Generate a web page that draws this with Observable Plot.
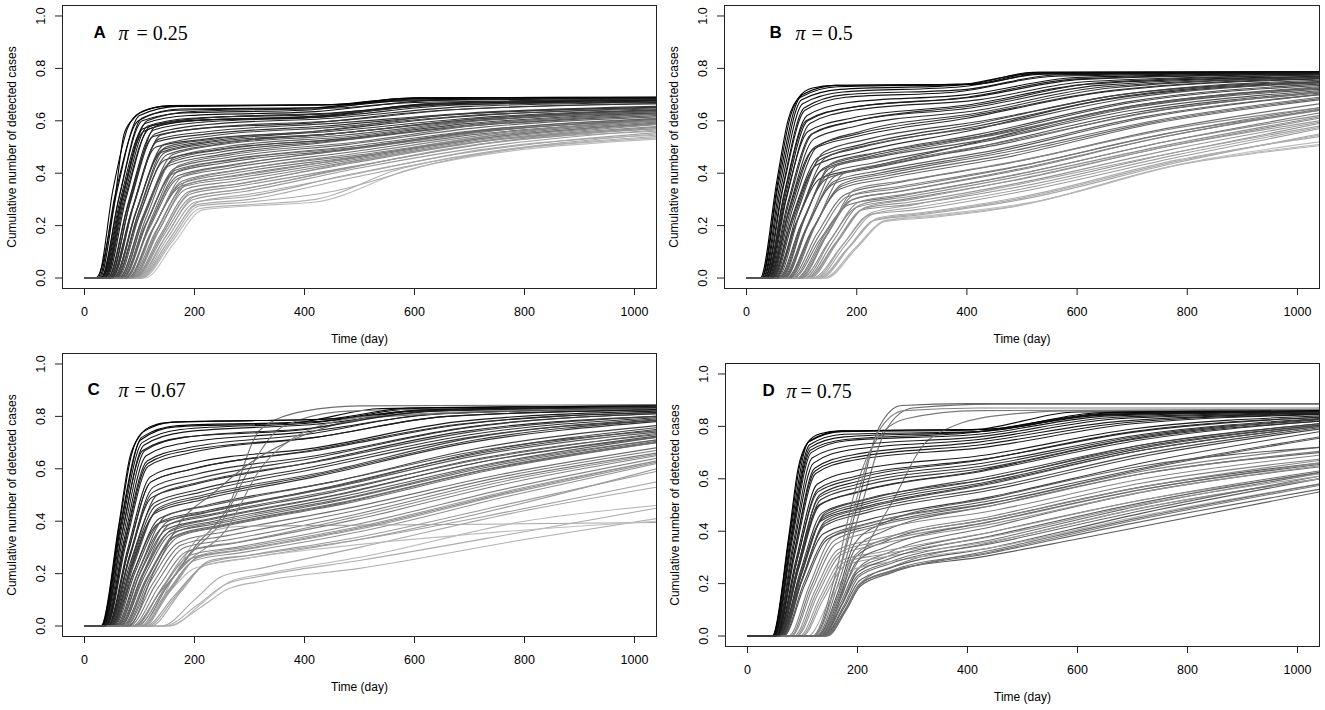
<!DOCTYPE html>
<html><head><meta charset="utf-8">
<script src="https://cdn.jsdelivr.net/npm/d3@7"></script>
<script src="https://cdn.jsdelivr.net/npm/@observablehq/plot@0.6"></script>
<style>
html,body{margin:0;padding:0;background:#fff;}
body{width:1325px;height:710px;position:relative;overflow:hidden;font-family:"Liberation Sans",Arial,sans-serif;}
.panel{position:absolute;}
</style></head><body>
<div id="pA" class="panel" style="left:0px;top:0px"></div>
<div id="pB" class="panel" style="left:662px;top:0px"></div>
<div id="pC" class="panel" style="left:0px;top:348px"></div>
<div id="pD" class="panel" style="left:663px;top:358px"></div>
<script>
const xTicks = [0, 200, 400, 600, 800, 1000];
const yTicks = [0, 0.2, 0.4, 0.6, 0.8, 1.0];
const panelLetters = ["A", "B", "C", "D"];
const piValues = ["0.25", "0.5", "0.67", "0.75"];
const xTitle = "Time (day)";
const yTitle = "Cumulative number of detected cases";

// Each curve: t,y pairs (day, cumulative share). Shade: 0 = black ... 1 = light gray.
const curvesA = [
[0,0, 20,0, 55,0.3, 72,0.55, 90,0.61, 110,0.64, 150,0.655, 450,0.662, 600,0.688, 1040,0.69],
[0,0, 28,0, 58,0.32, 100,0.62, 170,0.655, 450,0.66, 620,0.685, 1040,0.688],
[0,0, 30,0, 62,0.3, 105,0.6, 180,0.63, 400,0.64, 560,0.675, 1040,0.685],
[0,0, 35,0, 68,0.3, 110,0.59, 190,0.62, 420,0.635, 600,0.67, 1040,0.68],
[0,0, 38,0, 72,0.29, 118,0.57, 200,0.6, 400,0.615, 650,0.66, 1040,0.675],
[0,0, 40,0, 75,0.3, 120,0.58, 210,0.61, 450,0.63, 700,0.67, 1040,0.68],
[0,0, 45,0, 82,0.28, 128,0.55, 220,0.585, 450,0.61, 700,0.655, 1040,0.67],
[0,0, 42,0, 78,0.27, 125,0.54, 210,0.57, 400,0.59, 650,0.64, 1040,0.665],
[0,0, 50,0, 88,0.27, 135,0.53, 230,0.56, 450,0.59, 700,0.63, 1040,0.655],
[0,0, 48,0, 85,0.25, 130,0.5, 220,0.53, 420,0.56, 650,0.61, 1040,0.65],
[0,0, 55,0, 95,0.26, 145,0.51, 240,0.545, 450,0.575, 700,0.62, 1040,0.645],
[0,0, 26,0, 55,0.31, 98,0.6, 165,0.64, 420,0.65, 580,0.685, 1040,0.69],
[0,0, 33,0, 65,0.28, 108,0.56, 190,0.6, 440,0.62, 620,0.665, 1040,0.683],
[0,0, 52,0, 92,0.24, 140,0.48, 235,0.52, 450,0.55, 700,0.605, 1040,0.64],
[0,0, 60,0, 100,0.24, 150,0.47, 240,0.51, 450,0.55, 700,0.6, 1040,0.635],
[0,0, 65,0, 108,0.23, 160,0.45, 250,0.49, 470,0.53, 700,0.58, 1040,0.62],
[0,0, 62,0, 104,0.22, 155,0.43, 245,0.47, 450,0.52, 700,0.58, 1040,0.625],
[0,0, 70,0, 115,0.22, 165,0.42, 260,0.46, 480,0.51, 720,0.575, 1040,0.615],
[0,0, 75,0, 120,0.21, 172,0.41, 265,0.45, 500,0.5, 750,0.57, 1040,0.61],
[0,0, 68,0, 110,0.2, 162,0.4, 255,0.44, 470,0.49, 720,0.56, 1040,0.6],
[0,0, 72,0, 118,0.19, 170,0.38, 265,0.42, 480,0.48, 720,0.55, 1040,0.6],
[0,0, 80,0, 125,0.19, 178,0.37, 270,0.41, 500,0.47, 750,0.545, 1040,0.595],
[0,0, 78,0, 122,0.18, 175,0.35, 270,0.39, 500,0.46, 750,0.54, 1040,0.59],
[0,0, 58,0, 98,0.25, 148,0.5, 235,0.53, 420,0.56, 650,0.62, 1040,0.65],
[0,0, 85,0, 132,0.17, 185,0.34, 275,0.37, 500,0.45, 750,0.53, 1040,0.585],
[0,0, 90,0, 140,0.16, 192,0.32, 280,0.35, 500,0.43, 750,0.52, 1040,0.575],
[0,0, 95,0, 145,0.15, 198,0.3, 290,0.33, 500,0.42, 760,0.51, 1040,0.565],
[0,0, 100,0, 152,0.14, 205,0.28, 300,0.3, 480,0.38, 700,0.47, 1040,0.55],
[0,0, 105,0, 158,0.135, 210,0.265, 300,0.28, 420,0.3, 580,0.42, 1040,0.535],
[0,0, 88,0, 135,0.18, 188,0.36, 280,0.39, 520,0.47, 760,0.55, 1040,0.6],
[0,0, 92,0, 142,0.17, 195,0.33, 285,0.36, 480,0.44, 720,0.52, 1040,0.57],
[0,0, 98,0, 148,0.16, 200,0.31, 290,0.34, 460,0.41, 680,0.5, 1040,0.56],
[0,0, 82,0, 128,0.2, 180,0.39, 270,0.43, 520,0.5, 760,0.565, 1040,0.605],
[0,0, 102,0, 155,0.15, 207,0.29, 300,0.32, 500,0.4, 720,0.49, 1040,0.545],
[0,0, 68,0, 112,0.23, 163,0.46, 255,0.5, 480,0.54, 720,0.6, 1040,0.63],
[0,0, 36,0, 70,0.31, 114,0.6, 195,0.635, 470,0.65, 650,0.68, 1040,0.688],
[0,0, 56,0, 96,0.22, 146,0.45, 240,0.49, 460,0.53, 700,0.59, 1040,0.63],
[0,0, 110,0, 162,0.13, 215,0.26, 300,0.275, 420,0.29, 600,0.42, 1040,0.53],
[0,0, 24,0, 52,0.34, 78,0.57, 100,0.63, 155,0.658, 460,0.662, 610,0.688, 1040,0.69],
[0,0, 31,0, 63,0.31, 104,0.61, 175,0.645, 430,0.65, 600,0.68, 1040,0.687],
[0,0, 37,0, 71,0.3, 115,0.58, 195,0.61, 430,0.625, 640,0.665, 1040,0.678],
[0,0, 43,0, 80,0.29, 126,0.565, 215,0.595, 440,0.615, 680,0.66, 1040,0.672],
[0,0, 47,0, 86,0.26, 132,0.52, 225,0.55, 440,0.58, 680,0.625, 1040,0.652],
[0,0, 53,0, 93,0.25, 142,0.49, 238,0.525, 450,0.56, 700,0.61, 1040,0.642],
[0,0, 57,0, 97,0.24, 147,0.48, 240,0.515, 450,0.55, 700,0.605, 1040,0.64],
[0,0, 63,0, 105,0.23, 156,0.44, 245,0.48, 460,0.525, 700,0.585, 1040,0.628],
[0,0, 69,0, 113,0.21, 164,0.41, 258,0.45, 475,0.5, 720,0.565, 1040,0.608],
[0,0, 73,0, 118,0.2, 170,0.39, 262,0.43, 480,0.49, 730,0.56, 1040,0.605],
[0,0, 79,0, 124,0.185, 176,0.36, 270,0.4, 500,0.465, 750,0.54, 1040,0.592],
[0,0, 83,0, 130,0.18, 182,0.35, 272,0.38, 500,0.455, 750,0.535, 1040,0.588],
[0,0, 89,0, 138,0.165, 190,0.33, 280,0.36, 490,0.44, 740,0.525, 1040,0.578],
[0,0, 93,0, 143,0.16, 196,0.31, 288,0.34, 490,0.425, 740,0.515, 1040,0.57],
[0,0, 99,0, 150,0.15, 202,0.29, 295,0.31, 470,0.39, 700,0.48, 1040,0.555],
[0,0, 103,0, 156,0.14, 208,0.275, 300,0.29, 450,0.33, 640,0.44, 1040,0.54],
[0,0, 66,0, 109,0.24, 160,0.47, 250,0.51, 470,0.545, 710,0.6, 1040,0.635],
[0,0, 86,0, 134,0.19, 186,0.37, 276,0.41, 510,0.48, 760,0.555, 1040,0.6],
[0,0, 32,0, 64,0.29, 106,0.57, 185,0.6, 430,0.615, 610,0.66, 1040,0.68],
[0,0, 50,0, 90,0.28, 138,0.545, 230,0.575, 460,0.6, 690,0.645, 1040,0.665],
[0,0, 46,0, 84,0.3, 130,0.58, 215,0.61, 470,0.63, 690,0.67, 1040,0.682],
[0,0, 76,0, 120,0.22, 172,0.43, 265,0.47, 500,0.52, 740,0.59, 1040,0.625]
];
const shadeA = [0,0.05,0.1,0.08,0.15,0.12,0.2,0.18,0.25,0.22,0.3,0.05,0.1,0.28,0.35,0.4,0.38,0.45,0.5,0.42,0.48,0.55,0.52,0.35,0.6,0.65,0.7,0.75,0.8,0.62,0.68,0.72,0.58,0.78,0.45,0.15,0.3,0.85,
0.02,0.07,0.12,0.17,0.22,0.27,0.32,0.37,0.43,0.47,0.53,0.57,0.63,0.67,0.73,0.77,0.4,0.6,0.1,0.25,0.2,0.5];

const curvesB = [
[0,0, 25,0, 55,0.37, 75,0.6, 95,0.69, 120,0.725, 160,0.735, 400,0.74, 520,0.785, 1040,0.787],
[0,0, 30,0, 60,0.35, 100,0.68, 170,0.72, 380,0.735, 520,0.78, 1040,0.786],
[0,0, 33,0, 64,0.33, 105,0.65, 180,0.7, 400,0.72, 560,0.775, 1040,0.785],
[0,0, 36,0, 68,0.32, 110,0.62, 185,0.67, 400,0.7, 600,0.765, 1040,0.782],
[0,0, 40,0, 72,0.3, 115,0.59, 195,0.64, 420,0.68, 620,0.75, 1040,0.775],
[0,0, 38,0, 70,0.29, 112,0.56, 190,0.61, 400,0.66, 620,0.74, 1040,0.77],
[0,0, 44,0, 78,0.27, 122,0.53, 200,0.58, 420,0.64, 650,0.73, 1040,0.765],
[0,0, 42,0, 76,0.25, 120,0.49, 200,0.54, 400,0.61, 650,0.71, 1040,0.76],
[0,0, 48,0, 84,0.24, 130,0.46, 210,0.51, 420,0.59, 680,0.7, 1040,0.75],
[0,0, 46,0, 82,0.22, 126,0.43, 205,0.48, 400,0.56, 650,0.68, 1040,0.745],
[0,0, 52,0, 90,0.21, 136,0.41, 215,0.46, 420,0.54, 700,0.67, 1040,0.735],
[0,0, 28,0, 58,0.36, 98,0.69, 165,0.73, 420,0.74, 540,0.783, 1040,0.786],
[0,0, 34,0, 66,0.34, 106,0.64, 180,0.69, 380,0.71, 560,0.77, 1040,0.783],
[0,0, 50,0, 88,0.2, 134,0.38, 215,0.42, 400,0.51, 680,0.65, 1040,0.725],
[0,0, 36,0, 68,0.31, 108,0.6, 185,0.65, 400,0.69, 600,0.76, 1040,0.78],
[0,0, 58,0, 98,0.2, 146,0.38, 230,0.42, 420,0.5, 700,0.63, 1040,0.71],
[0,0, 65,0, 108,0.19, 158,0.36, 240,0.4, 450,0.48, 720,0.61, 1040,0.7],
[0,0, 72,0, 118,0.18, 170,0.34, 255,0.38, 470,0.46, 740,0.59, 1040,0.68],
[0,0, 80,0, 128,0.17, 180,0.32, 265,0.36, 480,0.44, 760,0.57, 1040,0.665],
[0,0, 68,0, 112,0.2, 162,0.39, 245,0.43, 460,0.51, 720,0.63, 1040,0.705],
[0,0, 76,0, 122,0.19, 174,0.36, 258,0.4, 470,0.48, 740,0.6, 1040,0.69],
[0,0, 90,0, 140,0.16, 192,0.3, 275,0.33, 480,0.41, 760,0.54, 1040,0.645],
[0,0, 85,0, 134,0.15, 186,0.28, 270,0.31, 480,0.39, 760,0.52, 1040,0.63],
[0,0, 62,0, 104,0.22, 152,0.42, 235,0.46, 440,0.53, 700,0.65, 1040,0.72],
[0,0, 100,0, 150,0.14, 200,0.27, 285,0.3, 480,0.37, 760,0.5, 1040,0.61],
[0,0, 110,0, 160,0.13, 210,0.26, 295,0.28, 500,0.35, 780,0.48, 1040,0.59],
[0,0, 120,0, 172,0.12, 222,0.24, 305,0.26, 500,0.33, 780,0.46, 1040,0.57],
[0,0, 130,0, 182,0.11, 232,0.22, 310,0.24, 500,0.3, 780,0.44, 1040,0.55],
[0,0, 140,0, 195,0.11, 250,0.215, 330,0.23, 480,0.27, 780,0.43, 1040,0.505],
[0,0, 105,0, 154,0.15, 204,0.29, 290,0.32, 500,0.4, 760,0.52, 1040,0.62],
[0,0, 115,0, 166,0.14, 216,0.27, 300,0.3, 500,0.38, 760,0.5, 1040,0.6],
[0,0, 125,0, 176,0.13, 228,0.25, 305,0.28, 500,0.36, 780,0.48, 1040,0.58],
[0,0, 95,0, 145,0.16, 196,0.32, 280,0.35, 500,0.43, 760,0.55, 1040,0.64],
[0,0, 135,0, 188,0.12, 240,0.23, 320,0.25, 500,0.31, 780,0.45, 1040,0.54],
[0,0, 70,0, 114,0.22, 165,0.43, 250,0.47, 460,0.55, 720,0.66, 1040,0.725],
[0,0, 145,0, 200,0.115, 255,0.22, 340,0.24, 520,0.29, 800,0.44, 1040,0.52],
[0,0, 54,0, 92,0.25, 140,0.48, 220,0.53, 430,0.6, 680,0.7, 1040,0.755],
[0,0, 42,0, 76,0.28, 120,0.55, 200,0.6, 420,0.66, 640,0.745, 1040,0.775],
[0,0, 27,0, 57,0.37, 80,0.62, 102,0.7, 162,0.735, 410,0.74, 530,0.785, 1040,0.787],
[0,0, 31,0, 62,0.34, 102,0.665, 175,0.71, 390,0.73, 540,0.778, 1040,0.785],
[0,0, 37,0, 70,0.31, 111,0.6, 188,0.65, 410,0.69, 610,0.758, 1040,0.778],
[0,0, 41,0, 74,0.28, 118,0.55, 198,0.6, 410,0.65, 640,0.735, 1040,0.768],
[0,0, 45,0, 80,0.26, 124,0.5, 202,0.55, 410,0.62, 660,0.715, 1040,0.762],
[0,0, 49,0, 86,0.23, 132,0.45, 212,0.5, 420,0.58, 690,0.695, 1040,0.748],
[0,0, 53,0, 92,0.22, 140,0.42, 220,0.47, 425,0.55, 700,0.675, 1040,0.74],
[0,0, 60,0, 101,0.21, 150,0.4, 232,0.44, 430,0.52, 700,0.64, 1040,0.715],
[0,0, 67,0, 110,0.195, 160,0.37, 242,0.41, 455,0.49, 720,0.615, 1040,0.7],
[0,0, 74,0, 120,0.185, 172,0.35, 256,0.39, 470,0.47, 740,0.595, 1040,0.685],
[0,0, 83,0, 131,0.16, 183,0.31, 268,0.34, 480,0.42, 760,0.55, 1040,0.65],
[0,0, 92,0, 142,0.155, 194,0.3, 278,0.33, 490,0.41, 760,0.54, 1040,0.64],
[0,0, 108,0, 157,0.14, 207,0.28, 292,0.31, 500,0.39, 770,0.51, 1040,0.615],
[0,0, 112,0, 163,0.135, 213,0.265, 298,0.29, 500,0.365, 770,0.49, 1040,0.595],
[0,0, 128,0, 179,0.125, 230,0.245, 308,0.27, 500,0.34, 780,0.47, 1040,0.575],
[0,0, 132,0, 185,0.115, 236,0.225, 315,0.245, 500,0.305, 780,0.445, 1040,0.545],
[0,0, 142,0, 198,0.11, 252,0.22, 335,0.235, 500,0.28, 790,0.435, 1040,0.51],
[0,0, 64,0, 106,0.23, 156,0.44, 240,0.48, 450,0.55, 710,0.66, 1040,0.73],
[0,0, 98,0, 147,0.17, 198,0.34, 282,0.37, 500,0.45, 760,0.565, 1040,0.65],
[0,0, 78,0, 125,0.2, 177,0.4, 260,0.44, 470,0.52, 740,0.635, 1040,0.71],
[0,0, 47,0, 83,0.26, 128,0.5, 208,0.56, 420,0.63, 660,0.725, 1040,0.765],
[0,0, 56,0, 96,0.24, 144,0.46, 226,0.51, 440,0.58, 690,0.685, 1040,0.745]
];
const shadeB = [0,0.05,0.1,0.08,0.15,0.12,0.2,0.18,0.25,0.22,0.3,0.05,0.1,0.28,0.15,0.35,0.4,0.45,0.5,0.42,0.48,0.55,0.52,0.38,0.6,0.65,0.7,0.75,0.8,0.62,0.68,0.72,0.58,0.78,0.45,0.85,0.3,0.2,
0.02,0.07,0.12,0.17,0.22,0.27,0.32,0.37,0.43,0.47,0.53,0.57,0.63,0.67,0.73,0.77,0.82,0.4,0.6,0.5,0.25,0.35];

const curvesC = [
[0,0, 30,0, 62,0.38, 82,0.64, 102,0.73, 125,0.765, 160,0.778, 450,0.79, 600,0.83, 1040,0.84],
[0,0, 33,0, 65,0.37, 104,0.72, 170,0.765, 420,0.78, 620,0.825, 1040,0.838],
[0,0, 36,0, 68,0.35, 108,0.69, 180,0.74, 420,0.77, 640,0.82, 1040,0.835],
[0,0, 38,0, 72,0.33, 112,0.65, 185,0.7, 400,0.74, 650,0.81, 1040,0.83],
[0,0, 40,0, 75,0.31, 116,0.61, 190,0.66, 420,0.72, 660,0.8, 1040,0.825],
[0,0, 42,0, 78,0.29, 120,0.57, 195,0.62, 420,0.68, 680,0.78, 1040,0.82],
[0,0, 45,0, 82,0.27, 125,0.53, 205,0.58, 420,0.65, 700,0.76, 1040,0.81],
[0,0, 44,0, 80,0.25, 122,0.49, 200,0.54, 400,0.62, 680,0.74, 1040,0.8],
[0,0, 48,0, 86,0.24, 130,0.46, 210,0.51, 420,0.6, 700,0.72, 1040,0.79],
[0,0, 47,0, 84,0.22, 128,0.43, 210,0.48, 420,0.57, 700,0.7, 1040,0.78],
[0,0, 52,0, 90,0.21, 136,0.41, 220,0.46, 450,0.55, 720,0.68, 1040,0.765],
[0,0, 32,0, 63,0.36, 102,0.71, 165,0.76, 380,0.775, 540,0.83, 1040,0.84],
[0,0, 35,0, 67,0.34, 106,0.67, 178,0.72, 400,0.75, 600,0.82, 1040,0.836],
[0,0, 50,0, 88,0.2, 134,0.39, 215,0.43, 420,0.52, 720,0.66, 1040,0.75],
[0,0, 39,0, 73,0.32, 114,0.63, 188,0.68, 400,0.73, 640,0.81, 1040,0.83],
[0,0, 56,0, 96,0.2, 144,0.38, 225,0.42, 450,0.51, 720,0.64, 1040,0.73],
[0,0, 62,0, 104,0.19, 154,0.36, 235,0.4, 460,0.49, 740,0.62, 1040,0.72],
[0,0, 68,0, 112,0.18, 164,0.34, 245,0.38, 470,0.47, 740,0.6, 1040,0.7],
[0,0, 75,0, 120,0.17, 172,0.32, 255,0.36, 480,0.45, 760,0.58, 1040,0.68],
[0,0, 64,0, 106,0.2, 156,0.39, 238,0.43, 460,0.52, 730,0.64, 1040,0.735],
[0,0, 72,0, 116,0.19, 168,0.36, 250,0.4, 480,0.49, 750,0.62, 1040,0.71],
[0,0, 82,0, 130,0.16, 182,0.3, 265,0.33, 480,0.42, 760,0.56, 1040,0.66],
[0,0, 58,0, 100,0.22, 148,0.42, 230,0.46, 450,0.55, 720,0.67, 1040,0.745],
[0,0, 100,0, 150,0.15, 200,0.3, 260,0.45, 320,0.75, 400,0.82, 500,0.84, 1040,0.845],
[0,0, 95,0, 145,0.14, 195,0.28, 250,0.4, 300,0.6, 360,0.76, 480,0.82, 1040,0.84],
[0,0, 90,0, 140,0.14, 192,0.27, 275,0.3, 500,0.39, 780,0.53, 1040,0.64],
[0,0, 100,0, 150,0.13, 200,0.25, 285,0.28, 500,0.36, 780,0.5, 1040,0.62],
[0,0, 110,0, 165,0.12, 218,0.23, 300,0.26, 500,0.33, 780,0.46, 1040,0.6],
[0,0, 110,0, 160,0.18, 210,0.34, 280,0.38, 500,0.385, 800,0.39, 1040,0.395],
[0,0, 150,0, 210,0.07, 260,0.14, 320,0.17, 500,0.22, 800,0.33, 1040,0.41],
[0,0, 145,0, 205,0.08, 258,0.16, 320,0.19, 500,0.25, 800,0.36, 1040,0.45],
[0,0, 155,0, 215,0.09, 265,0.17, 330,0.2, 520,0.27, 800,0.4, 1040,0.46],
[0,0, 140,0, 200,0.1, 250,0.19, 320,0.22, 500,0.3, 800,0.44, 1040,0.53],
[0,0, 120,0, 175,0.13, 228,0.25, 300,0.27, 500,0.33, 780,0.44, 1040,0.55],
[0,0, 100,0, 150,0.12, 200,0.22, 270,0.25, 450,0.3, 700,0.35, 1040,0.4],
[0,0, 92,0, 142,0.15, 195,0.29, 278,0.32, 500,0.42, 780,0.56, 1040,0.655],
[0,0, 105,0, 158,0.14, 210,0.27, 290,0.3, 500,0.38, 780,0.52, 1040,0.63],
[0,0, 66,0, 108,0.2, 160,0.37, 240,0.41, 460,0.5, 730,0.63, 1040,0.72],
[0,0, 50,0, 88,0.26, 132,0.5, 212,0.55, 430,0.63, 700,0.74, 1040,0.8],
[0,0, 43,0, 79,0.28, 121,0.55, 198,0.6, 410,0.67, 680,0.77, 1040,0.815],
[0,0, 31,0, 63,0.38, 85,0.65, 106,0.74, 162,0.778, 440,0.79, 590,0.832, 1040,0.84],
[0,0, 34,0, 66,0.36, 105,0.7, 175,0.75, 410,0.775, 620,0.825, 1040,0.837],
[0,0, 39,0, 74,0.32, 115,0.62, 188,0.67, 420,0.72, 660,0.8, 1040,0.826],
[0,0, 43,0, 79,0.28, 121,0.55, 198,0.6, 420,0.67, 690,0.77, 1040,0.815],
[0,0, 46,0, 83,0.24, 127,0.47, 206,0.52, 420,0.61, 700,0.73, 1040,0.795],
[0,0, 49,0, 87,0.23, 131,0.44, 212,0.49, 430,0.58, 710,0.71, 1040,0.785],
[0,0, 54,0, 92,0.205, 140,0.4, 222,0.44, 450,0.53, 720,0.665, 1040,0.757],
[0,0, 60,0, 101,0.2, 150,0.37, 230,0.41, 455,0.5, 730,0.63, 1040,0.725],
[0,0, 65,0, 109,0.19, 159,0.355, 240,0.39, 465,0.48, 740,0.61, 1040,0.71],
[0,0, 70,0, 114,0.18, 166,0.345, 248,0.385, 475,0.475, 745,0.605, 1040,0.705],
[0,0, 78,0, 125,0.165, 177,0.31, 260,0.345, 480,0.435, 760,0.57, 1040,0.67],
[0,0, 86,0, 135,0.15, 187,0.285, 270,0.315, 490,0.405, 770,0.545, 1040,0.65],
[0,0, 95,0, 146,0.14, 196,0.26, 280,0.29, 500,0.375, 780,0.515, 1040,0.63],
[0,0, 103,0, 154,0.135, 205,0.26, 288,0.29, 500,0.37, 780,0.51, 1040,0.625],
[0,0, 60,0, 102,0.21, 152,0.4, 234,0.44, 455,0.53, 725,0.655, 1040,0.74],
[0,0, 88,0, 138,0.13, 190,0.25, 255,0.36, 320,0.6, 400,0.74, 520,0.8, 1040,0.835],
[0,0, 51,0, 89,0.23, 134,0.45, 216,0.5, 440,0.59, 710,0.72, 1040,0.785],
[0,0, 46,0, 82,0.26, 124,0.51, 202,0.56, 415,0.64, 690,0.755, 1040,0.81],
[0,0, 74,0, 118,0.18, 170,0.34, 252,0.38, 480,0.47, 750,0.6, 1040,0.7],
[0,0, 115,0, 170,0.125, 222,0.24, 300,0.27, 500,0.34, 780,0.47, 1040,0.59],
[0,0, 80,0, 125,0.2, 175,0.4, 230,0.5, 300,0.62, 400,0.73, 550,0.8, 1040,0.83],
[0,0, 37,0, 70,0.34, 110,0.67, 182,0.72, 410,0.755, 630,0.82, 1040,0.834]
];
const shadeC = [0,0.05,0.1,0.08,0.15,0.12,0.2,0.18,0.25,0.22,0.3,0.05,0.1,0.28,0.15,0.35,0.4,0.45,0.5,0.42,0.48,0.55,0.38,0.5,0.55,0.6,0.65,0.7,0.75,0.8,0.78,0.82,0.75,0.72,0.85,0.62,0.68,0.45,0.3,0.2,
0.02,0.07,0.12,0.17,0.22,0.27,0.32,0.37,0.43,0.47,0.53,0.57,0.63,0.67,0.4,0.6,0.3,0.25,0.5,0.7,0.45,0.15];

const curvesD = [
[0,0, 45,0, 75,0.38, 92,0.64, 110,0.74, 132,0.772, 170,0.783, 450,0.79, 650,0.85, 1040,0.86],
[0,0, 48,0, 78,0.37, 113,0.73, 175,0.77, 420,0.78, 640,0.845, 1040,0.858],
[0,0, 50,0, 80,0.35, 116,0.7, 180,0.745, 420,0.77, 660,0.84, 1040,0.855],
[0,0, 52,0, 83,0.33, 120,0.66, 185,0.71, 420,0.75, 680,0.83, 1040,0.85],
[0,0, 54,0, 86,0.31, 124,0.62, 190,0.67, 430,0.72, 700,0.81, 1040,0.845],
[0,0, 55,0, 88,0.29, 127,0.58, 195,0.63, 430,0.69, 700,0.79, 1040,0.84],
[0,0, 58,0, 92,0.27, 132,0.54, 200,0.59, 430,0.66, 720,0.77, 1040,0.83],
[0,0, 57,0, 90,0.25, 130,0.5, 200,0.55, 420,0.63, 700,0.75, 1040,0.82],
[0,0, 60,0, 95,0.24, 136,0.47, 210,0.52, 440,0.6, 720,0.73, 1040,0.81],
[0,0, 59,0, 94,0.22, 134,0.44, 208,0.49, 430,0.58, 720,0.71, 1040,0.8],
[0,0, 62,0, 98,0.21, 140,0.42, 215,0.47, 450,0.56, 730,0.69, 1040,0.79],
[0,0, 46,0, 76,0.37, 111,0.74, 172,0.78, 400,0.785, 600,0.855, 1040,0.86],
[0,0, 49,0, 79,0.36, 115,0.71, 178,0.75, 400,0.775, 640,0.845, 1040,0.856],
[0,0, 61,0, 97,0.2, 138,0.39, 212,0.44, 440,0.53, 740,0.67, 1040,0.78],
[0,0, 53,0, 85,0.32, 122,0.64, 188,0.69, 420,0.74, 680,0.82, 1040,0.85],
[0,0, 65,0, 102,0.2, 145,0.38, 220,0.43, 450,0.52, 740,0.65, 1040,0.76],
[0,0, 56,0, 89,0.28, 128,0.55, 196,0.6, 420,0.67, 700,0.78, 1040,0.835],
[0,0, 120,0, 160,0.2, 200,0.5, 240,0.8, 280,0.88, 400,0.887, 1040,0.887],
[0,0, 125,0, 165,0.2, 205,0.48, 250,0.78, 300,0.87, 450,0.885, 1040,0.885],
[0,0, 140,0, 175,0.18, 210,0.32, 260,0.5, 330,0.75, 450,0.84, 600,0.86, 1040,0.86],
[0,0, 140,0, 178,0.1, 205,0.19, 260,0.24, 450,0.32, 700,0.43, 1040,0.56],
[0,0, 138,0, 176,0.11, 203,0.21, 260,0.26, 450,0.34, 720,0.47, 1040,0.6],
[0,0, 142,0, 180,0.1, 207,0.2, 265,0.25, 420,0.3, 600,0.37, 1040,0.55],
[0,0, 135,0, 172,0.12, 200,0.23, 255,0.28, 450,0.37, 720,0.5, 1040,0.62],
[0,0, 132,0, 170,0.13, 198,0.25, 250,0.3, 450,0.4, 720,0.52, 1040,0.63],
[0,0, 145,0, 182,0.11, 210,0.21, 270,0.27, 450,0.36, 720,0.49, 1040,0.6],
[0,0, 130,0, 168,0.15, 196,0.3, 250,0.36, 450,0.45, 720,0.57, 1040,0.66],
[0,0, 128,0, 166,0.16, 195,0.33, 248,0.4, 450,0.5, 720,0.62, 1040,0.7],
[0,0, 136,0, 174,0.13, 202,0.26, 258,0.32, 450,0.42, 720,0.55, 1040,0.645],
[0,0, 80,0, 118,0.18, 160,0.35, 230,0.4, 450,0.48, 720,0.6, 1040,0.69],
[0,0, 90,0, 128,0.16, 170,0.31, 240,0.35, 450,0.43, 720,0.55, 1040,0.65],
[0,0, 100,0, 138,0.14, 178,0.27, 245,0.3, 440,0.36, 720,0.49, 1040,0.6],
[0,0, 85,0, 122,0.17, 165,0.33, 235,0.37, 450,0.45, 720,0.57, 1040,0.67],
[0,0, 95,0, 132,0.15, 172,0.29, 240,0.32, 450,0.4, 720,0.52, 1040,0.62],
[0,0, 110,0, 148,0.13, 188,0.25, 250,0.28, 450,0.34, 720,0.46, 1040,0.58],
[0,0, 75,0, 112,0.19, 155,0.38, 225,0.43, 450,0.51, 720,0.63, 1040,0.72],
[0,0, 64,0, 100,0.22, 142,0.44, 218,0.49, 440,0.58, 720,0.71, 1040,0.8],
[0,0, 63,0, 99,0.24, 141,0.47, 216,0.52, 440,0.61, 720,0.73, 1040,0.81],
[0,0, 118,0, 158,0.22, 195,0.55, 235,0.75, 290,0.83, 420,0.86, 1040,0.865],
[0,0, 58,0, 93,0.26, 133,0.52, 205,0.57, 430,0.64, 720,0.76, 1040,0.825],
[0,0, 46,0, 76,0.38, 95,0.65, 113,0.745, 172,0.783, 440,0.79, 640,0.852, 1040,0.86],
[0,0, 49,0, 79,0.36, 114,0.72, 176,0.76, 420,0.78, 650,0.843, 1040,0.857],
[0,0, 53,0, 85,0.32, 123,0.63, 190,0.68, 425,0.73, 690,0.815, 1040,0.847],
[0,0, 56,0, 89,0.28, 128,0.56, 197,0.61, 430,0.675, 710,0.78, 1040,0.835],
[0,0, 58,0, 92,0.25, 132,0.5, 204,0.55, 430,0.63, 720,0.75, 1040,0.82],
[0,0, 60,0, 96,0.23, 137,0.45, 210,0.5, 440,0.59, 725,0.72, 1040,0.805],
[0,0, 62,0, 99,0.215, 141,0.43, 216,0.48, 450,0.57, 730,0.7, 1040,0.795],
[0,0, 66,0, 103,0.19, 146,0.37, 222,0.42, 450,0.51, 740,0.645, 1040,0.755],
[0,0, 134,0, 171,0.12, 199,0.24, 252,0.29, 450,0.385, 720,0.51, 1040,0.625],
[0,0, 137,0, 175,0.115, 202,0.225, 258,0.275, 450,0.355, 720,0.48, 1040,0.61],
[0,0, 141,0, 179,0.105, 206,0.2, 262,0.25, 440,0.32, 700,0.44, 1040,0.575],
[0,0, 129,0, 167,0.155, 196,0.31, 250,0.37, 450,0.46, 720,0.585, 1040,0.675],
[0,0, 88,0, 125,0.165, 168,0.32, 238,0.36, 450,0.44, 720,0.56, 1040,0.66],
[0,0, 98,0, 135,0.145, 175,0.28, 242,0.31, 445,0.38, 720,0.505, 1040,0.61],
[0,0, 127,0, 165,0.17, 194,0.35, 246,0.43, 450,0.53, 720,0.65, 1040,0.72],
[0,0, 122,0, 162,0.21, 198,0.52, 238,0.78, 285,0.86, 420,0.87, 1040,0.87],
[0,0, 139,0, 177,0.1, 204,0.2, 262,0.245, 450,0.33, 710,0.45, 1040,0.58],
[0,0, 61,0, 97,0.23, 139,0.46, 214,0.51, 440,0.6, 725,0.725, 1040,0.805],
[0,0, 131,0, 169,0.14, 197,0.28, 252,0.34, 450,0.44, 720,0.56, 1040,0.655],
[0,0, 78,0, 115,0.185, 158,0.365, 228,0.415, 450,0.5, 720,0.62, 1040,0.705],
[0,0, 57,0, 91,0.265, 131,0.53, 202,0.58, 430,0.65, 720,0.765, 1040,0.828],
[0,0, 51,0, 82,0.34, 118,0.68, 183,0.725, 420,0.76, 670,0.835, 1040,0.852]
];
const shadeD = [0,0.05,0.1,0.08,0.15,0.12,0.2,0.18,0.25,0.22,0.3,0.05,0.1,0.28,0.15,0.35,0.2,0.45,0.5,0.55,0.45,0.4,0.42,0.5,0.48,0.52,0.4,0.45,0.5,0.6,0.65,0.7,0.62,0.68,0.75,0.58,0.35,0.3,0.55,0.25,
0.02,0.07,0.12,0.17,0.22,0.27,0.32,0.37,0.43,0.47,0.53,0.57,0.63,0.67,0.4,0.6,0.5,0.3,0.45,0.55,0.25,0.15];

const SANS = '"Liberation Sans", Arial, Helvetica, sans-serif';
const SERIF = '"Liberation Serif", "DejaVu Serif", serif';

function panel(curves, shades, letter, pi, lay) {
  const rows = [];
  curves.forEach((c, i) => {
    for (let k = 0; k < c.length; k += 2) rows.push({id: i, t: c[k], v: c[k + 1], s: shades[i]});
  });
  return Plot.plot({
    width: lay.w, height: 355,
    marginLeft: 62, marginRight: 6, marginTop: 5, marginBottom: 67,
    style: {fontFamily: SANS, fontSize: "12.5px", color: "#000", background: "transparent", overflow: "visible"},
    x: {domain: [-40, 1040]},
    y: {domain: [-0.04, 1.04]},
    color: {type: "linear", domain: [0, 1], range: ["#000000", "#dedede"]},
    marks: [
      Plot.line(rows, {x: "t", y: "v", z: "id", stroke: "s", strokeWidth: 1.1, curve: "monotone-x", clip: true}),
      Plot.frame({stroke: "#222", strokeWidth: 1}),
      Plot.axisX({ticks: xTicks, tickSize: 7, tickPadding: 12, tickFormat: d => String(d), label: null, stroke: "#222", fontSize: 12.5}),
      Plot.axisY({ticks: yTicks, tickSize: 7, tickFormat: () => "", label: null, stroke: "#222"}),
      Plot.text(yTicks, {y: d => d, text: d => d.toFixed(1), frameAnchor: "left", dx: -22, rotate: -90, textAnchor: "middle", lineAnchor: "middle", fontSize: 12.5}),
      Plot.text([xTitle], {frameAnchor: "bottom", dy: 54, textAnchor: "middle", fontSize: 12}),
      Plot.text([yTitle], {frameAnchor: "left", dx: -50, rotate: -90, textAnchor: "middle", lineAnchor: "middle", fontSize: 12}),
      Plot.text([letter], {frameAnchor: "top-left", dx: lay.lx, dy: lay.ly, textAnchor: "start", fontWeight: "bold", fontSize: 17, fontFamily: SANS}),
      Plot.text(["π"], {frameAnchor: "top-left", dx: lay.px, dy: lay.ly, textAnchor: "start", fontStyle: "italic", fontSize: 20, fontFamily: SERIF}),
      Plot.text(["= " + pi], {frameAnchor: "top-left", dx: lay.ex, dy: lay.ly, textAnchor: "start", fontSize: 20, fontFamily: SERIF})
    ]
  });
}

const layouts = [
  {w: 662, lx: 31, px: 56, ex: 74, ly: 20},
  {w: 663, lx: 45, px: 71, ex: 87, ly: 20},
  {w: 662, lx: 25, px: 56, ex: 72, ly: 29},
  {w: 662, lx: 37, px: 61, ex: 75, ly: 20}
];
const allCurves = [curvesA, curvesB, curvesC, curvesD];
const allShades = [shadeA, shadeB, shadeC, shadeD];
["pA", "pB", "pC", "pD"].forEach((id, i) => {
  document.getElementById(id).appendChild(panel(allCurves[i], allShades[i], panelLetters[i], piValues[i], layouts[i]));
});
</script>
</body></html>
